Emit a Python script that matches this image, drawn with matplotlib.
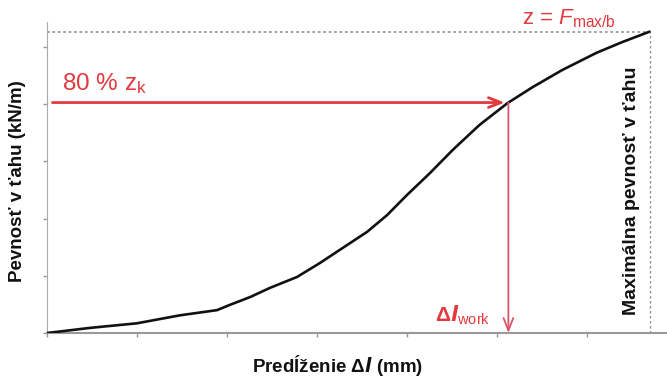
import matplotlib
matplotlib.use("Agg")
import matplotlib.pyplot as plt

# Curve data (x in tick units, y in tick units)
elong = [0.0, 0.48, 1.0, 1.48, 1.89, 2.03, 2.26, 2.48, 2.78, 3.03, 3.29, 3.56, 3.78, 4.0,
         4.26, 4.51, 4.81, 5.12, 5.40, 5.73, 6.11, 6.40, 6.70]
strength = [0.0, 0.09, 0.17, 0.31, 0.40, 0.49, 0.63, 0.79, 0.98, 1.22, 1.49, 1.77, 2.06, 2.41,
            2.80, 3.20, 3.64, 4.02, 4.30, 4.60, 4.90, 5.09, 5.27]
x_ticks = [0, 1, 2, 3, 4, 5, 6]
y_ticks = [0, 1, 2, 3, 4, 5]
z_max = 5.27
z_work = 4.03
x_work = 5.13
x_max = 6.70

plt.rcParams['font.family'] = ['Liberation Sans', 'DejaVu Sans']
plt.rcParams['mathtext.fontset'] = 'custom'
plt.rcParams['mathtext.rm'] = 'Liberation Sans'
plt.rcParams['mathtext.it'] = 'Liberation Sans:italic'
plt.rcParams['mathtext.bf'] = 'Liberation Sans:bold'

red = '#e23a3f'
fig = plt.figure(figsize=(6.67, 3.78), dpi=100)
ax = fig.add_axes([0.0705, 0.119, 0.929, 0.823])
ax.set_xlim(0, 6.89)
ax.set_ylim(0, 5.44)

ax.plot(elong, strength, color='#111111', lw=1.9, solid_capstyle='round',
        solid_joinstyle='round', zorder=3)

# reference lines
ax.plot([0, x_max], [z_max, z_max], color='#9a9a9a', lw=1.3, ls=(0, (1.5, 1.5)), zorder=2)
ax.plot([x_max + 0.01, x_max + 0.01], [0, z_max], color='#8a8a8a', lw=0.9, ls=(0, (2, 2)), zorder=2)

# arrows
ax.annotate('', xy=(x_work - 0.04, z_work), xytext=(0.06, z_work),
            arrowprops=dict(arrowstyle='->,head_length=0.9,head_width=0.35', color=red, lw=2.0,
                            shrinkA=0, shrinkB=0), zorder=4)
ax.annotate('', xy=(x_work, 0.0), xytext=(x_work, z_work),
            arrowprops=dict(arrowstyle='->,head_length=0.9,head_width=0.35', color='#d9566a', lw=1.3,
                            shrinkA=0, shrinkB=0), zorder=4)

# texts
ax.text(0.17, 4.25, r'80 % z$_{\mathrm{k}}$', color=red, fontsize=17.5, ha='left', va='baseline')
ax.text(5.28, 5.50, r'z = $\mathit{F}_{\mathrm{max/b}}$', color=red, fontsize=16, ha='left', va='center',
        clip_on=False)
ax.text(4.31, 0.31, r'$\mathbf{\Delta}\boldsymbol{l}_{\mathrm{work}}$', color=red, fontsize=15,
        ha='left', va='center')
ax.text(6.50, 2.48, 'Maximálna pevnosť v ťahu', rotation=90, color='#111111', fontsize=14,
        fontweight='bold', ha='center', va='center')

ax.set_ylabel('Pevnosť v ťahu (kN/m)', fontsize=13.5, fontweight='bold', color='#111111')
ax.set_xlabel(r'Predĺženie $\mathbf{\Delta}\boldsymbol{l}$ (mm)', fontsize=13.5, fontweight='bold',
              color='#111111')
ax.xaxis.set_label_coords(0.468, -0.106)
ax.xaxis.label.set_va('center')
ax.yaxis.set_label_coords(-0.047, 0.489)
ax.yaxis.label.set_va('center')

ax.set_xticks(x_ticks)
ax.set_yticks(y_ticks)
ax.set_xticklabels([])
ax.set_yticklabels([])
ax.tick_params(axis='both', length=3, width=1, color='#999999', direction='out')
for s in ['top', 'right']:
    ax.spines[s].set_visible(False)
ax.spines['left'].set_color('#aaaaaa')
ax.spines['bottom'].set_color('#999999')
ax.spines['bottom'].set_linewidth(1.5)

fig.savefig('out.png', dpi=100)
